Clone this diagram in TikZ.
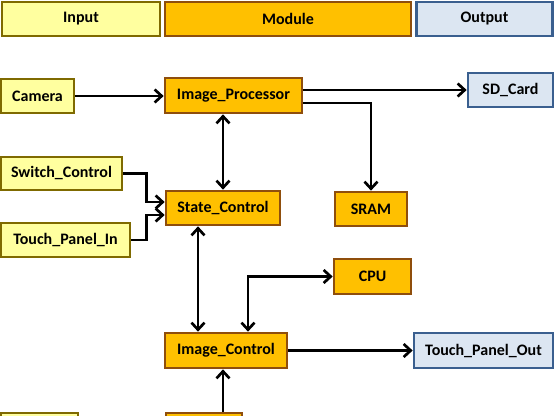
\documentclass[tikz,border=0pt]{standalone}
\usepackage{fontspec}
\setmainfont{Carlito}
\usetikzlibrary{arrows.meta}
\definecolor{inFill}{HTML}{FFFF9F}
\definecolor{inDraw}{HTML}{7F6A00}
\definecolor{modFill}{HTML}{FFC000}
\definecolor{modDraw}{HTML}{8F4E0C}
\definecolor{outFill}{HTML}{DCE6F2}
\definecolor{outDraw}{HTML}{3A5F8F}
\tikzset{
  box/.style={draw, line width=2.7pt, inner sep=0pt, font=\fontsize{16}{19}\selectfont\bfseries},
  inbox/.style={box, fill=inFill, draw=inDraw},
  modbox/.style={box, fill=modFill, draw=modDraw},
  outbox/.style={box, fill=outFill, draw=outDraw},
  tip/.style={Straight Barb[length=7pt,width=13pt,line width=2.7pt]},
  conn/.style={line width=2.7pt, -{Straight Barb[length=7pt,width=13pt,line width=2.7pt]}},
  bconn/.style={line width=2.7pt, {Straight Barb[length=7pt,width=13pt,line width=2.7pt]}-{Straight Barb[length=7pt,width=13pt,line width=2.7pt]}}
}
\begin{document}
\begin{tikzpicture}[x=1pt,y=-1pt]
    \clip (0,0) rectangle (554,415);
    \fill[white] (0,0) rectangle (554,415);
    % header
    \node[inbox, minimum width=158pt, minimum height=34pt] (hin) at (81,19) {Input};
    \node[modbox, minimum width=246pt, minimum height=34pt] (hmod) at (288,19) {Module};
    \node[outbox, minimum width=136pt, minimum height=34pt] (hout) at (484.5,19) {Output};
    % inputs
    \node[inbox, minimum width=73pt, minimum height=34pt] (camera) at (37.5,96) {Camera};
    \node[inbox, minimum width=121pt, minimum height=33pt] (switch) at (61.5,173.5) {Switch\_Control};
    \node[inbox, minimum width=129pt, minimum height=34pt] (touchin) at (65.5,240) {Touch\_Panel\_In};
    \node[inbox, minimum width=77pt, minimum height=36pt] (botin) at (39.5,431) {};
    % modules
    \node[modbox, minimum width=137pt, minimum height=35pt] (ip) at (233.5,95.5) {Image\_Processor};
    \node[modbox, minimum width=114pt, minimum height=34pt] (state) at (223,208) {State\_Control};
    \node[modbox, minimum width=72pt, minimum height=34pt] (sram) at (371,209) {SRAM};
    \node[modbox, minimum width=77pt, minimum height=35pt] (cpu) at (372.5,276.5) {CPU};
    \node[modbox, minimum width=122pt, minimum height=35pt] (ic) at (226,350.5) {Image\_Control};
    \node[modbox, minimum width=76pt, minimum height=36pt] (botmod) at (204,431) {};
    % outputs
    \node[outbox, minimum width=85pt, minimum height=34pt] (sd) at (510.5,90) {SD\_Card};
    \node[outbox, minimum width=139pt, minimum height=35pt] (tpo) at (483.5,350.5) {Touch\_Panel\_Out};
    % connectors
    \draw[conn] (camera.east) -- (camera.east -| ip.west);
    \draw[conn] (ip.east |- sd.west) -- (sd.west);
    \draw[conn] ([yshift=-7.5pt]ip.east) -| (sram.north);
    \draw[bconn] (state.north) -- (state.north |- ip.south);
    \draw[conn] (switch.east) -- ++(23,0) |- ([yshift=6pt]state.west);
    \draw[conn] (touchin.east) -- ++(15,0) |- ([yshift=-7pt]state.west);
    \draw[bconn] ([xshift=-25pt]state.south) -- ([xshift=-25pt]state.south |- ic.north);
    \draw[bconn] (cpu.west) -| ([xshift=22pt]ic.north);
    \draw[conn] (ic.east) -- (tpo.west);
    \draw[conn] ([xshift=19pt]botmod.north) -- ([xshift=19pt]botmod.north |- ic.south);
\end{tikzpicture}
\end{document}
